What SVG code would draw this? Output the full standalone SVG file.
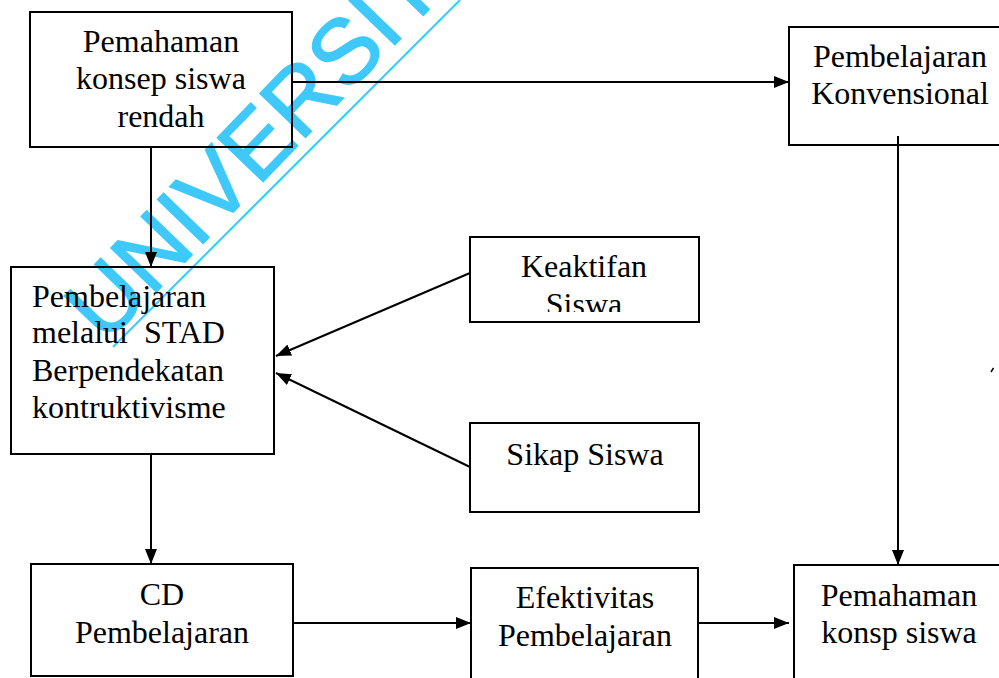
<svg xmlns="http://www.w3.org/2000/svg" width="999" height="678" viewBox="0 0 999 678">
<style>
  .box { fill: none; stroke: #000; stroke-width: 2; }
  .t { font-family: "Liberation Serif", "Times New Roman", serif; font-size: 32px; fill: #000; }
  .c { text-anchor: middle; }
  .conn { stroke: #000; stroke-width: 2; fill: none; }
  .wm { font-family: "Liberation Sans", Arial, sans-serif; font-size: 92px; fill: #3ec9fa; stroke: #3ec9fa; stroke-width: 1.5; }
</style>
<defs>
  <marker id="ah" markerUnits="userSpaceOnUse" markerWidth="16" markerHeight="13" refX="15" refY="6" orient="auto">
    <path d="M0,0 L15,6 L0,12 z" fill="#000"/>
  </marker>
  <clipPath id="clipK"><rect x="469" y="236" width="231" height="76"/></clipPath>
</defs>
<rect width="999" height="678" fill="#fff"/>

<g id="watermark">
  <text class="wm" transform="translate(105,345) rotate(-46)">UNIVERSIT</text>
  <line x1="113" y1="347" x2="460" y2="0" stroke="#3ec9fa" stroke-width="2"/>
</g>

<g id="connectors">
  <line class="conn" x1="292" y1="82" x2="789" y2="82" marker-end="url(#ah)"/>
  <line class="conn" x1="151" y1="147" x2="151" y2="267" marker-end="url(#ah)"/>
  <line class="conn" x1="898" y1="136" x2="898" y2="565" marker-end="url(#ah)"/>
  <line class="conn" x1="470" y1="273" x2="276" y2="356" marker-end="url(#ah)"/>
  <line class="conn" x1="470" y1="467" x2="276" y2="373" marker-end="url(#ah)"/>
  <line class="conn" x1="151" y1="454" x2="151" y2="564" marker-end="url(#ah)"/>
  <line class="conn" x1="293" y1="623" x2="471" y2="623" marker-end="url(#ah)"/>
  <line class="conn" x1="698" y1="623" x2="789" y2="623" marker-end="url(#ah)"/>
</g>

<g id="node-pemahaman-rendah">
  <rect class="box" x="30" y="12" width="262" height="135"/>
  <text class="t c" x="161" y="52">Pemahaman</text>
  <text class="t c" x="161" y="89">konsep siswa</text>
  <text class="t c" x="161" y="127">rendah</text>
</g>

<g id="node-konvensional">
  <rect class="box" x="789" y="27" width="230" height="118"/>
  <text class="t c" x="900" y="67">Pembelajaran</text>
  <text class="t c" x="900" y="104">Konvensional</text>
</g>

<g id="node-stad">
  <rect class="box" x="11" y="267" width="263" height="187"/>
  <text class="t" x="32" y="307">Pembelajaran</text>
  <text class="t" x="32" y="343" xml:space="preserve">melalui  STAD</text>
  <text class="t" x="32" y="381">Berpendekatan</text>
  <text class="t" x="32" y="418">kontruktivisme</text>
</g>

<g id="node-keaktifan">
  <rect class="box" x="470" y="237" width="229" height="85"/>
  <text class="t c" x="584" y="277">Keaktifan</text>
  <text class="t c" x="584" y="315" clip-path="url(#clipK)">Siswa</text>
</g>

<g id="node-sikap">
  <rect class="box" x="470" y="423" width="229" height="89"/>
  <text class="t c" x="585" y="465">Sikap Siswa</text>
</g>

<g id="node-cd">
  <rect class="box" x="31" y="564" width="262" height="112"/>
  <text class="t c" x="162" y="605">CD</text>
  <text class="t c" x="162" y="643">Pembelajaran</text>
</g>

<g id="node-efektivitas">
  <rect class="box" x="471" y="568" width="227" height="130"/>
  <text class="t c" x="585" y="608">Efektivitas</text>
  <text class="t c" x="585" y="646">Pembelajaran</text>
</g>

<g id="node-pemahaman-konsp">
  <rect class="box" x="794" y="565" width="230" height="130"/>
  <text class="t c" x="899" y="606">Pemahaman</text>
  <text class="t c" x="899" y="643">konsp siswa</text>
</g>

<line x1="991" y1="372" x2="993.5" y2="368" stroke="#000" stroke-width="1.5"/>
</svg>
